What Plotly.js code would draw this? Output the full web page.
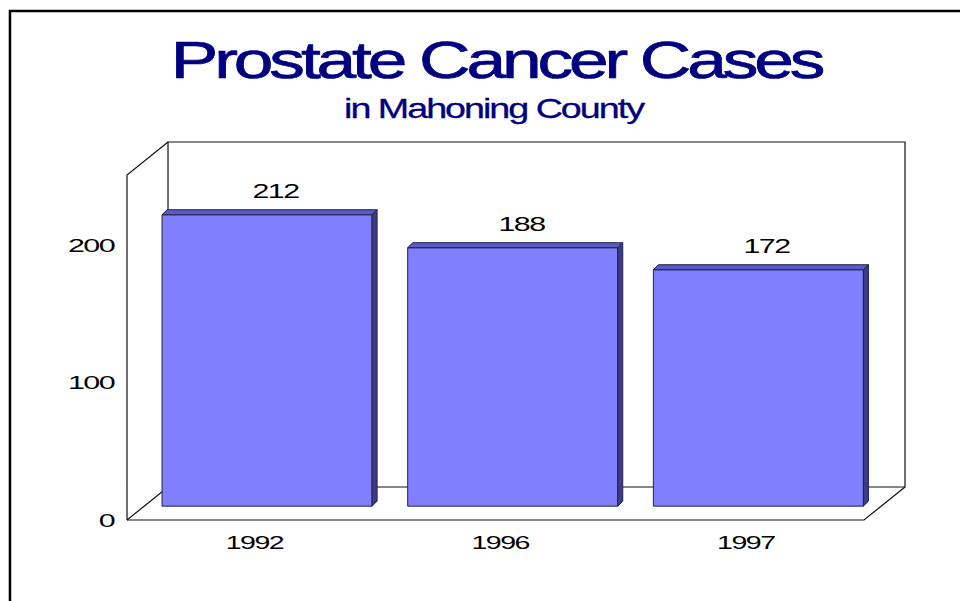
<!DOCTYPE html>
<html><head><meta charset="utf-8">
<script src="https://cdn.plot.ly/plotly-3.0.1.min.js"></script>
<style>html,body{margin:0;padding:0;background:#fff;}#chart{width:960px;height:601px;}</style>
</head><body><div id="chart"></div>
<script>
// ---- data ----
const categories = ['1992', '1996', '1997'];
const cases = [212, 188, 172];
const yTickValues = [0, 100, 200];
const yTickLabels = ['0', '100', '200'];
const chartTitle = 'Prostate Cancer Cases';
const chartSubtitle = 'in Mahoning County';

// ---- 3D style geometry (data units of the axes) ----
const DX = 0.1669, DY = 24, YTOP = 275;   // depth of the box
const F = 0.42;                            // depth position of the bars
const BW = 0.855;                          // bar width
const BDX = 0.0204, BDY = 3.64;            // bar thickness
const PADX = 0.0163, PADY = 2.91;          // small padding so frame lines are not clipped

const xs = categories.map((c, i) => i);
const bx = xs.map(x => x + F * DX);
const by0 = F * DY;

const topX = [], topY = [], sideX = [], sideY = [];
cases.forEach((v, i) => {
  const l = bx[i] - BW / 2, r = bx[i] + BW / 2, t = by0 + v;
  topX.push(l, l + BDX, r + BDX, r, l, null);
  topY.push(t, t + BDY, t + BDY, t, t, null);
  sideX.push(r, r + BDX, r + BDX, r, r, null);
  sideY.push(by0, by0 + BDY, t + BDY, t, by0, null);
});

const edge = {color: '#222244', width: 1};
const data = [
  {type: 'bar', x: bx, y: cases, base: by0, width: BW,
   marker: {color: '#8080ff', line: edge}, hoverinfo: 'skip'},
  {type: 'scatter', mode: 'lines', x: topX, y: topY, fill: 'toself',
   fillcolor: '#5a5ac8', line: edge, hoverinfo: 'skip', connectgaps: false},
  {type: 'scatter', mode: 'lines', x: sideX, y: sideY, fill: 'toself',
   fillcolor: '#3c3c8c', line: edge, hoverinfo: 'skip', connectgaps: false}
];

const L = -0.5, R = categories.length - 0.5;
const boxLine = {color: '#111', width: 1.2};
const shapes = [
  // back wall
  {type: 'rect', xref: 'x', yref: 'y', x0: L + DX, x1: R + DX, y0: DY, y1: YTOP, line: boxLine, layer: 'below'},
  // left wall
  {type: 'path', xref: 'x', yref: 'y', layer: 'below', line: boxLine,
   path: `M ${L} 0 L ${L} ${YTOP - DY} L ${L + DX} ${YTOP} M ${L} 0 L ${L + DX} ${DY}`},
  // floor
  {type: 'path', xref: 'x', yref: 'y', layer: 'below', line: boxLine,
   path: `M ${L} 0 L ${R} 0 L ${R + DX} ${DY}`},
  // outer frame
  {type: 'rect', xref: 'paper', yref: 'paper', x0: -0.1438, x1: 1.08, y0: -0.22, y1: 1.329,
   line: {color: '#000', width: 2.5}}
];

const numFont = {family: 'Liberation Sans, Arial, sans-serif', size: 19, color: '#000'};
const annotations = [
  {text: chartSubtitle, xref: 'paper', yref: 'paper', x: 0.472, y: 1.0777,
   xanchor: 'center', yanchor: 'middle', showarrow: false,
   font: {family: 'Liberation Sans, Arial, sans-serif', size: 28, color: '#000080'}}
].concat(cases.map((v, i) => ({
  text: String(v), x: bx[i] + BDX / 2, y: by0 + v + BDY, xref: 'x', yref: 'y',
  xanchor: 'center', yanchor: 'middle', yshift: 19, xshift: 6, showarrow: false,
  font: {family: 'Liberation Sans, Arial, sans-serif', size: 21, color: '#000'}
})));

const layout = {
  width: 960, height: 601,
  margin: {l: 123, r: 51, t: 138, b: 77},
  paper_bgcolor: '#fff', plot_bgcolor: '#fff',
  showlegend: false,
  title: {text: chartTitle, xref: 'container', yref: 'container', x: 0.5167, y: 0.9,
          xanchor: 'center', yanchor: 'middle',
          font: {family: 'Liberation Sans, Arial, sans-serif', size: 52, color: '#000080'}},
  xaxis: {range: [L - PADX, R + DX + PADX], tickvals: xs.map(x => x + 0.019), ticktext: categories,
          showgrid: false, zeroline: false, showline: false, ticks: '', ticklabelstandoff: 5,
          tickfont: numFont, fixedrange: true},
  yaxis: {range: [-PADY, YTOP + PADY], tickvals: yTickValues, ticktext: yTickLabels,
          showgrid: false, zeroline: false, showline: false, ticks: '', ticklabelstandoff: 8,
          tickfont: numFont, fixedrange: true},
  shapes: shapes,
  annotations: annotations
};

const gd = document.getElementById('chart');
function stretch() {
  const apply = (els, f, spacing, stroke) => els.forEach(el => {
    const len = el.getComputedTextLength();
    if (spacing) el.style.letterSpacing = spacing + 'px';
    if (stroke) { el.style.stroke = stroke[0]; el.style.strokeWidth = stroke[1] + 'px'; }
    el.setAttribute('textLength', (len * f).toFixed(1));
    el.setAttribute('lengthAdjust', 'spacingAndGlyphs');
  });
  apply(gd.querySelectorAll('.gtitle'), 1.21, -3, ['#000080', 0.7]);
  gd.querySelectorAll('.annotation').forEach(a => {
    const idx = +a.getAttribute('data-index');
    if (idx === 0) apply(a.querySelectorAll('text'), 1.2, -1.5, ['#000080', 0.3]);
    else apply(a.querySelectorAll('text'), 1.32, -1, null);
  });
  apply(gd.querySelectorAll('.xtick text'), 1.36, -1, null);
  apply(gd.querySelectorAll('.ytick text'), 1.45, -1, null);
}
Plotly.newPlot(gd, data, layout, {staticPlot: true, displayModeBar: false}).then(stretch);
</script>
</body></html>
